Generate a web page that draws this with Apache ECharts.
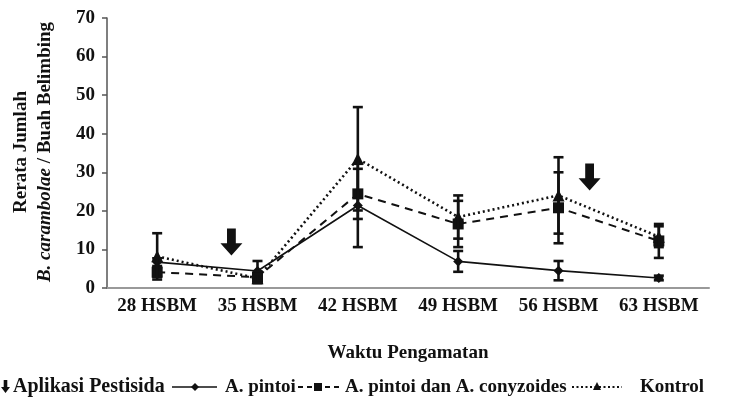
<!DOCTYPE html>
<html>
<head>
<meta charset="utf-8">
<script src="https://cdn.jsdelivr.net/npm/echarts@6/dist/echarts.min.js"></script>
<style>
html,body{margin:0;padding:0;background:#fff;}
#chart{width:731px;height:403px;}
</style>
</head>
<body>
<div id="chart"></div>
<script>
var categories = ['28 HSBM', '35 HSBM', '42 HSBM', '49 HSBM', '56 HSBM', '63 HSBM'];
var yTicks = [0, 10, 20, 30, 40, 50, 60, 70];
var pintoi = [6.7, 4.4, 21.4, 6.9, 4.5, 2.6];
var pintoiErr = [1.0, 2.6, 10.8, 2.7, 2.5, 0.6];
var campuran = [4.1, 2.8, 24.4, 16.6, 20.8, 12.2];
var campuranErr = [1.2, 1.5, 6.5, 6.0, 9.2, 4.4];
var kontrol = [8.2, 2.5, 33.5, 18.4, 24.0, 13.3];
var kontrolErr = [6.0, 1.2, 13.4, 5.6, 9.9, 2.7];
var pestisidaX = [0.74, 4.31];
var pestisidaY = [11.9, 28.8];
var legTexts = ['Aplikasi Pestisida', 'A. pintoi', 'A. pintoi dan A. conyzoides', 'Kontrol'];

var FONT = '"Liberation Serif", "Times New Roman", serif';
var INK = '#111';
var ARROW = 'path://M3,0 L7,0 L7,6 L10,6 L5,11 L0,6 L3,6 Z';

var chart = echarts.init(document.getElementById('chart'), null, {renderer: 'canvas'});

function errSeries(vals, errs) {
  return {
    type: 'custom',
    z: 5,
    data: vals.map(function (v, i) { return [i, v, errs[i]]; }),
    renderItem: function (params, api) {
      var x = api.value(0), v = api.value(1), e = api.value(2);
      var top = api.coord([x, v + e]);
      var bot = api.coord([x, Math.max(0, v - e)]);
      var hw = 5;
      var st = {stroke: INK, lineWidth: 2.6};
      return {
        type: 'group',
        children: [
          {type: 'line', shape: {x1: top[0], y1: top[1], x2: bot[0], y2: bot[1]}, style: st},
          {type: 'line', shape: {x1: top[0] - hw, y1: top[1], x2: top[0] + hw, y2: top[1]}, style: st},
          {type: 'line', shape: {x1: bot[0] - hw, y1: bot[1], x2: bot[0] + hw, y2: bot[1]}, style: st}
        ]
      };
    }
  };
}

var legY = 387;
var legend = [];
function poly(pts, ox, oy) {
  legend.push({type: 'polygon', shape: {points: pts.map(function (p) { return [p[0] + ox, p[1] + oy]; })}, style: {fill: INK}});
}
function legText(t, x, size) {
  legend.push({type: 'text', x: x, y: legY, style: {text: t, font: 'bold ' + size + 'px ' + FONT, fill: INK, verticalAlign: 'middle', align: 'left'}});
}
// arrow icon
poly([[2.7, 0], [6.3, 0], [6.3, 7], [9, 7], [4.5, 13], [0, 7], [2.7, 7]], 1, legY - 7);
legText(legTexts[0], 13, 20);
// solid line + diamond
legend.push({type: 'line', shape: {x1: 172, y1: legY, x2: 217, y2: legY}, style: {stroke: INK, lineWidth: 1.6}});
poly([[4, 0], [8, 4], [4, 8], [0, 4]], 191, legY - 4);
legText(legTexts[1], 225, 19);
// dashed + square
legend.push({type: 'line', shape: {x1: 298, y1: legY, x2: 341, y2: legY}, style: {stroke: INK, lineWidth: 1.8, lineDash: [5, 4]}});
legend.push({type: 'rect', shape: {x: 314, y: legY - 4, width: 8, height: 8}, style: {fill: INK}});
legText(legTexts[2], 345, 19);
// dotted + triangle
legend.push({type: 'line', shape: {x1: 572, y1: legY, x2: 622, y2: legY}, style: {stroke: INK, lineWidth: 1.8, lineDash: [2, 2.5]}});
poly([[4, 0], [8, 8], [0, 8]], 593, legY - 5);
legText(legTexts[3], 640, 19);

var option = {
  backgroundColor: '#fff',
  animation: false,
  grid: {left: 107, right: 22, top: 18, bottom: 115, containLabel: false, outerBoundsMode: 'none'},
  xAxis: [{
    type: 'category',
    data: categories,
    boundaryGap: true,
    axisLine: {onZero: false, lineStyle: {color: '#999', width: 2}},
    axisTick: {show: false},
    axisLabel: {color: INK, fontFamily: FONT, fontWeight: 'bold', fontSize: 19, margin: 9, interval: 0},
    name: 'Waktu Pengamatan',
    nameLocation: 'middle',
    nameGap: 56,
    nameTextStyle: {color: INK, fontFamily: FONT, fontWeight: 'bold', fontSize: 19}
  }, {
    type: 'value', min: -0.5, max: 5.5, show: false
  }],
  yAxis: {
    type: 'value',
    min: yTicks[0],
    max: yTicks[yTicks.length - 1],
    interval: 10,
    splitLine: {show: false},
    axisLine: {show: true, onZero: false, lineStyle: {color: '#555', width: 1.5}},
    axisTick: {show: true, inside: false, length: 5, lineStyle: {color: '#555', width: 1.5}},
    axisLabel: {color: INK, fontFamily: FONT, fontWeight: 'bold', fontSize: 19, margin: 12}
  },
  graphic: [
    {type: 'text', x: 21, y: 152, rotation: Math.PI / 2,
      style: {text: 'Rerata Jumlah', font: 'bold 19px ' + FONT, fill: INK, align: 'center', verticalAlign: 'middle'}},
    {type: 'text', x: 45, y: 152, rotation: Math.PI / 2,
      style: {text: '{i|B. carambolae} / Buah Belimbing', font: 'bold 19px ' + FONT, fill: INK, align: 'center', verticalAlign: 'middle',
        rich: {i: {fontStyle: 'italic', fontWeight: 'bold', fontFamily: FONT, fontSize: 19, fill: INK}}}},
    {type: 'group', children: legend}
  ],
  series: [
    errSeries(pintoi, pintoiErr),
    errSeries(campuran, campuranErr),
    errSeries(kontrol, kontrolErr),
    {
      name: 'A. pintoi', type: 'line', data: pintoi, z: 3,
      symbol: 'diamond', symbolSize: 10, showAllSymbol: true,
      lineStyle: {color: INK, width: 1.6, type: 'solid'},
      itemStyle: {color: INK}
    },
    {
      name: 'A. pintoi dan A. conyzoides', type: 'line', data: campuran, z: 3,
      symbol: 'rect', symbolSize: 11, showAllSymbol: true,
      lineStyle: {color: INK, width: 2, type: [8, 6]},
      itemStyle: {color: INK}
    },
    {
      name: 'Kontrol', type: 'line', data: kontrol, z: 3,
      symbol: 'triangle', symbolSize: 12, showAllSymbol: true,
      lineStyle: {color: INK, width: 2.6, type: [2, 3]},
      itemStyle: {color: INK}
    },
    {
      name: 'Aplikasi Pestisida', type: 'scatter', xAxisIndex: 1, z: 6,
      data: pestisidaX.map(function (x, i) { return [x, pestisidaY[i]]; }),
      symbol: ARROW, symbolKeepAspect: false, symbolSize: [22, 27],
      itemStyle: {color: INK, opacity: 1}
    }
  ]
};
chart.setOption(option);
</script>
</body>
</html>
